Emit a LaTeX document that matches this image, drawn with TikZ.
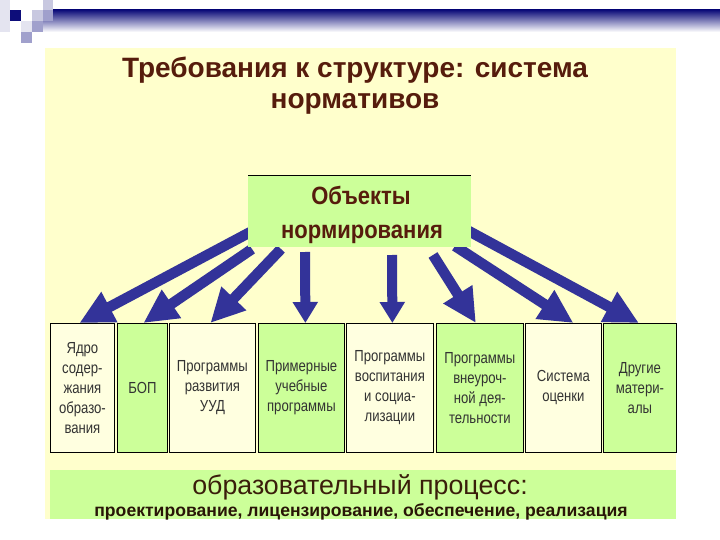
\documentclass[tikz,border=0pt]{standalone}
\usepackage{fontspec}
\setmainfont{Liberation Sans}
\newfontfamily\narrowfont[FakeStretch=0.88]{Liberation Sans}
\newfontfamily\boxfont[FakeStretch=0.82]{Liberation Sans}
\usetikzlibrary{arrows.meta}
\definecolor{bgyellow}{HTML}{FFFFCC}
\definecolor{boxyellow}{HTML}{FFFFE0}
\definecolor{boxgreen}{HTML}{CCFF99}
\definecolor{arrowblue}{HTML}{333399}
\definecolor{titlebrown}{HTML}{561C0C}
\definecolor{bandbrown}{HTML}{3A1E0A}
\definecolor{boxtextcol}{HTML}{333333}
\definecolor{navy}{HTML}{0D0D7A}
\definecolor{lav1}{HTML}{E4E4F0}
\definecolor{lav2}{HTML}{C8C8E0}
\definecolor{lav3}{HTML}{A0A0CC}
\begin{document}
\begin{tikzpicture}[x=1pt,y=-1pt,
  ybox/.style={draw=black, line width=0.8pt, fill=boxyellow, anchor=north west,
    minimum height=129pt, inner sep=0pt, align=center, text=boxtextcol,
    font=\boxfont\fontsize{16}{20}\selectfont},
  gbox/.style={ybox, fill=boxgreen},
  arr/.style={line width=10.5pt, draw=arrowblue, -{Triangle[length=34pt,width=32pt]}},
  varr/.style={line width=10pt, draw=arrowblue, -{Triangle[length=21pt,width=24pt]}},
  titletext/.style={anchor=base, text=titlebrown, font=\bfseries\fontsize{28}{32}\selectfont},
  objtext/.style={anchor=base, text=titlebrown, font=\narrowfont\bfseries\fontsize{25}{30}\selectfont},
]
\useasboundingbox (0,0) rectangle (720,540);
\fill[white] (0,0) rectangle (720,540);
% header decoration
\shade[left color=navy, middle color=navy!55!white, right color=white, shading angle=0] (43,10) rectangle (720,32);
\fill[lav1] (0,0) rectangle (10,10);
\fill[lav1] (0,10) rectangle (10,32);
\fill[navy] (10,10) rectangle (21,21);
\fill[lav2] (32,10) rectangle (43,21);
\fill[lav2] (43,0) rectangle (53,10);
\fill[lav3] (43,10) rectangle (53,21);
\fill[lav1] (21,21) rectangle (32,32);
\fill[lav3] (32,21) rectangle (43,32);
\fill[lav3] (21,32) rectangle (32,43);
% panels
\fill[bgyellow] (45,48) rectangle (676,519);
\fill[boxgreen] (50,470) rectangle (676,519);
% title
\node[titletext] (title1) at (355,78) {Требования к структуре: система};
\node[titletext] (title2) at (355,109) {нормативов};
% bottom boxes
\node[ybox, minimum width=64pt] (b1) at (50,323) {Ядро\\содер-\\жания\\образо-\\вания};
\node[gbox, minimum width=50pt] (b2) at (117,323) {БОП};
\node[ybox, minimum width=86pt] (b3) at (169,323) {Программы\\развития\\УУД};
\node[gbox, minimum width=86pt] (b4) at (258,323) {Примерные\\учебные\\программы};
\node[ybox, minimum width=87pt] (b5) at (346,323) {Программы\\воспитания\\и социа-\\лизации};
\node[gbox, minimum width=87pt] (b6) at (436,323) {Программы\\внеуроч-\\ной дея-\\тельности};
\node[ybox, minimum width=76pt] (b7) at (525,323) {Система\\оценки};
\node[gbox, minimum width=73pt] (b8) at (603,323) {Другие\\матери-\\алы};
% arrow starts
\coordinate (s1) at (258,228);
\coordinate (s2) at (252,249);
\coordinate (s3) at (281,249);
\coordinate (s4) at (305,252);
\coordinate (s5) at (392,255);
\coordinate (s6) at (433,255);
\coordinate (s7) at (455,246);
\coordinate (s8) at (465,229);
\draw[arr] (s1) -- ([xshift=-3pt]b1.north);
\draw[arr] (s2) -- ([xshift=1pt]b2.north);
\draw[arr] (s3) -- ([xshift=-2pt]b3.north);
\draw[varr] (s4) -- ([xshift=4pt]b4.north);
\draw[varr] (s5) -- ([xshift=2.5pt]b5.north);
\draw[arr] (s6) -- ([xshift=-4pt]b6.north);
\draw[arr] (s7) -- ([xshift=10pt]b7.north);
\draw[arr] (s8) -- ([xshift=-1pt]b8.north);
% central box
\node[fill=boxgreen, minimum width=223pt, minimum height=72pt, inner sep=0pt, anchor=north west] (obj) at (248,175) {};
\draw[black, line width=0.8pt] (obj.north west) -- (obj.north east);
\node[objtext] (objt1) at (361,205) {Объекты};
\node[objtext] (objt2) at (362,238) {нормирования};
% band text
\node[anchor=base, text=bandbrown, font=\fontsize{26.8}{30}\selectfont] (band1) at (360,494) {образовательный процесс:};
\node[anchor=base, text=bandbrown!70!black, font=\bfseries\fontsize{17.6}{20}\selectfont] (band2) at (361,516) {проектирование, лицензирование, обеспечение, реализация};
\end{tikzpicture}
\end{document}
